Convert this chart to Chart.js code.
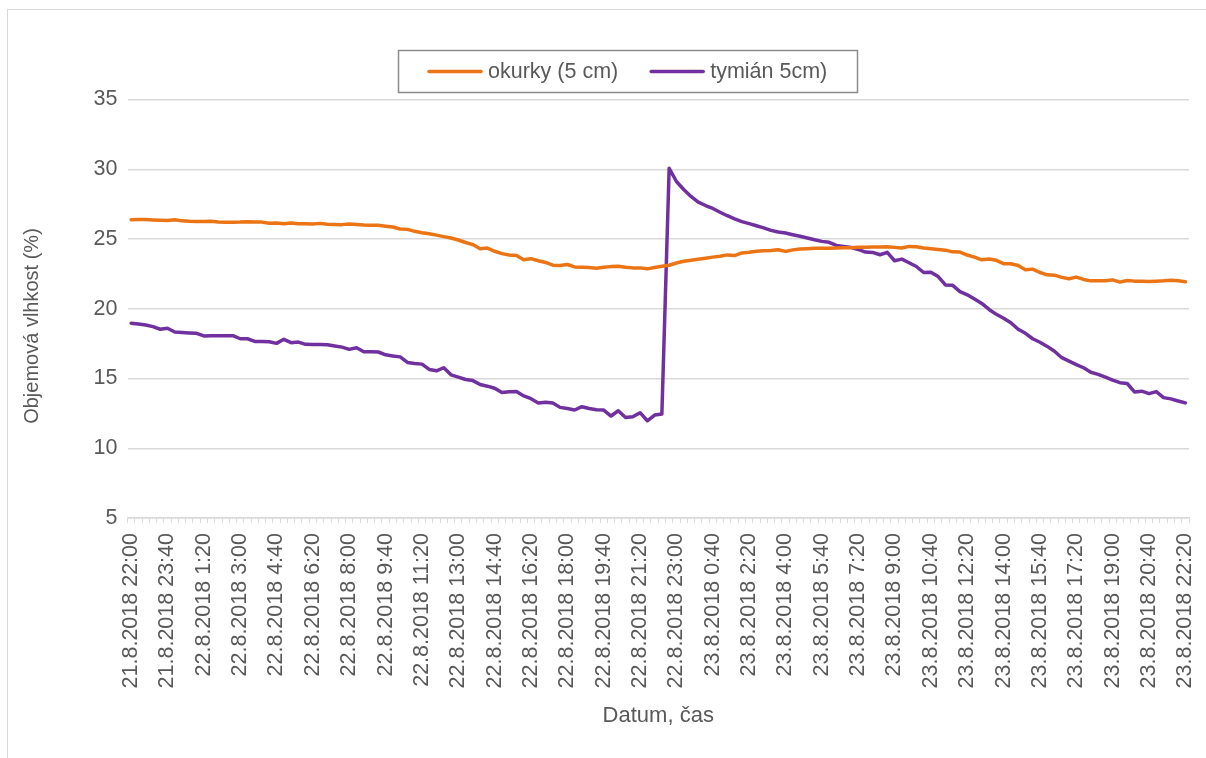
<!DOCTYPE html>
<html>
<head>
<meta charset="utf-8">
<script src="https://cdn.jsdelivr.net/npm/chart.js@4.4.1/dist/chart.umd.min.js"></script>
<style>
  html, body { margin: 0; padding: 0; background: #fff; overflow: hidden; }
  #wrap { position: relative; width: 1206px; height: 758px; }
  #frame { position: absolute; left: 7px; top: 9px; width: 1220px; height: 770px;
           border: 1px solid #d9d9d9; box-sizing: border-box; }
  #c { position: absolute; left: 0; top: 0; }
</style>
</head>
<body>
<div id="wrap">
  <div id="frame"></div>
  <canvas id="c" width="1206" height="758"></canvas>
</div>
<script>
// Sampling grid: one reading every 20 minutes
const startTime = Date.UTC(2018, 7, 21, 22, 0);
const stepMinutes = 20;
const sampleCount = 146;
const labelEvery = 5;

// Category labels "d.m.yyyy h:mm"
const categories = [];
for (let i = 0; i < sampleCount; i++) {
  const d = new Date(startTime + i * stepMinutes * 60000);
  categories.push(d.getUTCDate() + '.' + (d.getUTCMonth() + 1) + '.' + d.getUTCFullYear() + ' ' +
    d.getUTCHours() + ':' + String(d.getUTCMinutes()).padStart(2, '0'));
}

const seriesNames = ['okurky (5 cm)', 'tymián 5cm)'];
const seriesColors = ['#EB7415', '#7030A0'];

// Volumetric moisture (%)
const okurky = [
  26.38, 26.40, 26.40, 26.37, 26.35, 26.32, 26.38, 26.30, 26.27, 26.26,
  26.25, 26.27, 26.22, 26.20, 26.20, 26.21, 26.24, 26.22, 26.21, 26.13,
  26.15, 26.10, 26.14, 26.10, 26.09, 26.08, 26.12, 26.06, 26.04, 26.03,
  26.08, 26.04, 26.00, 25.99, 25.98, 25.92, 25.86, 25.72, 25.69, 25.55,
  25.45, 25.38, 25.28, 25.17, 25.07, 24.93, 24.75, 24.60, 24.30, 24.35,
  24.12, 23.95, 23.85, 23.82, 23.51, 23.59, 23.44, 23.32, 23.12, 23.10,
  23.17, 23.00, 22.98, 22.95, 22.90, 22.97, 23.02, 23.05, 22.98, 22.93,
  22.93, 22.86, 22.95, 23.05, 23.12, 23.28, 23.40, 23.48, 23.55, 23.62,
  23.70, 23.76, 23.86, 23.81, 24.00, 24.05, 24.12, 24.15, 24.17, 24.23,
  24.11, 24.22, 24.28, 24.30, 24.33, 24.33, 24.34, 24.35, 24.37, 24.38,
  24.40, 24.40, 24.42, 24.43, 24.45, 24.40, 24.35, 24.47, 24.45, 24.35,
  24.30, 24.25, 24.20, 24.08, 24.06, 23.85, 23.70, 23.51, 23.56, 23.47,
  23.23, 23.23, 23.10, 22.79, 22.84, 22.60, 22.43, 22.41, 22.25, 22.15,
  22.27, 22.10, 22.00, 22.00, 22.00, 22.07, 21.91, 22.03, 21.98, 21.97,
  21.95, 21.98, 22.00, 22.05, 22.00, 21.93
];

const tymian = [
  18.96, 18.90, 18.84, 18.72, 18.53, 18.60, 18.33, 18.30, 18.27, 18.24,
  18.05, 18.06, 18.07, 18.07, 18.07, 17.85, 17.85, 17.66, 17.65, 17.64,
  17.52, 17.81, 17.57, 17.61, 17.45, 17.43, 17.44, 17.42, 17.33, 17.25,
  17.09, 17.21, 16.92, 16.92, 16.90, 16.70, 16.62, 16.55, 16.15, 16.08,
  16.03, 15.65, 15.55, 15.77, 15.26, 15.10, 14.93, 14.85, 14.57, 14.45,
  14.30, 13.99, 14.05, 14.06, 13.75, 13.55, 13.25, 13.30, 13.25, 12.93,
  12.85, 12.74, 12.98, 12.85, 12.76, 12.74, 12.31, 12.69, 12.21, 12.26,
  12.55, 11.97, 12.38, 12.45, 30.07, 29.12, 28.55, 28.05, 27.64, 27.40,
  27.19, 26.92, 26.67, 26.45, 26.25, 26.10, 25.95, 25.80, 25.62, 25.50,
  25.43, 25.31, 25.20, 25.07, 24.95, 24.83, 24.76, 24.54, 24.47, 24.40,
  24.25, 24.06, 24.04, 23.87, 24.04, 23.44, 23.56, 23.30, 23.03, 22.60,
  22.62, 22.31, 21.71, 21.68, 21.23, 21.00, 20.70, 20.38, 19.95, 19.60,
  19.32, 19.00, 18.53, 18.24, 17.85, 17.60, 17.30, 16.95, 16.49, 16.25,
  16.00, 15.77, 15.45, 15.30, 15.10, 14.88, 14.70, 14.64, 14.04, 14.09,
  13.92, 14.06, 13.63, 13.54, 13.39, 13.25
];

const yMin = 5, yMax = 35, yStep = 5;
const xTitle = 'Datum, čas';
const yTitle = 'Objemová vlhkost (%)';

const textColor = '#595959';
const gridColor = '#d9d9d9';
const fontFamily = '"Liberation Sans", Arial, sans-serif';

// Boxed legend above the plot
const boxedLegend = {
  id: 'boxedLegend',
  afterDraw(chart) {
    const ctx = chart.ctx;
    ctx.save();
    ctx.strokeStyle = '#8c8c8c';
    ctx.lineWidth = 1.5;
    ctx.strokeRect(398.5, 50.5, 459, 42);
    ctx.font = '21.5px ' + fontFamily;
    ctx.fillStyle = textColor;
    ctx.textBaseline = 'middle';
    ctx.textAlign = 'left';
    let x = 429;
    const y = 71.5;
    chart.data.datasets.forEach(ds => {
      ctx.strokeStyle = ds.borderColor;
      ctx.lineWidth = 3.5;
      ctx.lineCap = 'round';
      ctx.beginPath();
      ctx.moveTo(x, y);
      ctx.lineTo(x + 52, y);
      ctx.stroke();
      ctx.fillText(ds.label, x + 59, y + 1);
      x += 59 + ctx.measureText(ds.label).width + 33;
    });
    ctx.restore();
  }
};

// Vertical axis title
const yAxisTitle = {
  id: 'yAxisTitle',
  afterDraw(chart) {
    const ctx = chart.ctx;
    ctx.save();
    ctx.translate(32, 326);
    ctx.rotate(-Math.PI / 2);
    ctx.font = '20px ' + fontFamily;
    ctx.fillStyle = textColor;
    ctx.textAlign = 'center';
    ctx.textBaseline = 'middle';
    ctx.fillText(yTitle, 0, 0);
    ctx.restore();
  }
};

new Chart(document.getElementById('c'), {
  type: 'line',
  data: {
    labels: categories,
    datasets: [
      { label: seriesNames[0], data: okurky, borderColor: seriesColors[0], backgroundColor: seriesColors[0] },
      { label: seriesNames[1], data: tymian, borderColor: seriesColors[1], backgroundColor: seriesColors[1] }
    ]
  },
  options: {
    responsive: false,
    animation: false,
    devicePixelRatio: 1,
    layout: { padding: { left: 0, right: 17, top: 99.5, bottom: 0 } },
    elements: {
      line: { borderWidth: 3.5, tension: 0, fill: false, borderJoinStyle: 'round', borderCapStyle: 'round' },
      point: { radius: 0, hoverRadius: 0 }
    },
    plugins: {
      legend: { display: false },
      tooltip: { enabled: false }
    },
    scales: {
      x: {
        type: 'category',
        offset: true,
        grid: { display: true, drawOnChartArea: false, drawTicks: true, tickLength: 5, offset: true, color: gridColor, lineWidth: 1 },
        border: { display: true, color: gridColor, width: 1.5 },
        ticks: {
          autoSkip: false, minRotation: 90, maxRotation: 90, padding: 10,
          color: textColor, font: { family: fontFamily, size: 21.5 },
          callback(value, index) { return index % labelEvery === 0 ? this.getLabelForValue(value) : ''; }
        },
        title: { display: true, text: xTitle, color: textColor, font: { family: fontFamily, size: 22 }, padding: { top: 0, bottom: 29 } },
        afterFit(scale) { scale.height = 240; scale.paddingLeft = 0; scale.paddingRight = 0; }
      },
      y: {
        min: yMin, max: yMax,
        ticks: { stepSize: yStep, padding: 10, color: textColor, font: { family: fontFamily, size: 21.5 } },
        grid: { color: gridColor, lineWidth: 1.5, drawTicks: false },
        border: { display: false },
        afterFit(scale) { scale.width = 127.5; }
      }
    }
  },
  plugins: [boxedLegend, yAxisTitle]
});
</script>
</body>
</html>
